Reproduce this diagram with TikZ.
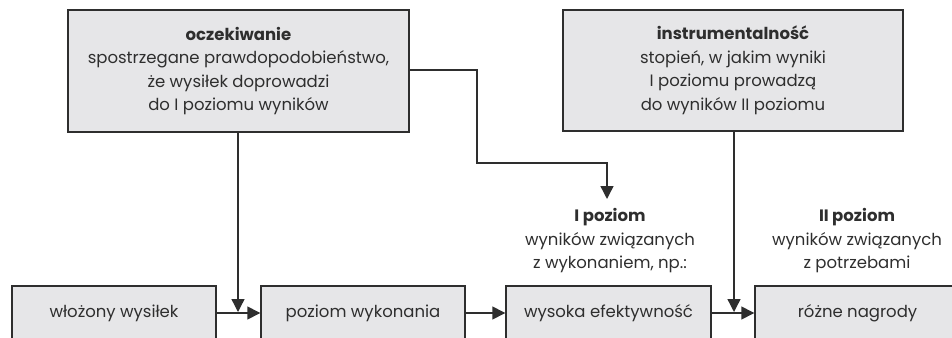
\documentclass[tikz,border=0pt]{standalone}
\usepackage{fontspec}
\setmainfont{Poppins}
\usetikzlibrary{arrows.meta}
\definecolor{boxfill}{HTML}{E6E6E8}
\definecolor{ink}{HTML}{2E2E2E}
\begin{document}
\begin{tikzpicture}[x=1pt,y=-1pt,
  every node/.style={text=ink,font=\fontsize{16.5}{23.5}\selectfont},
  box/.style={draw=ink,fill=boxfill,line width=1.4pt,align=center,inner sep=0pt},
  lab/.style={align=center,inner sep=0pt},
  conn/.style={draw=ink,line width=1.4pt},
  arr/.style={conn,-{Triangle[length=13pt,width=13pt]}}]
\useasboundingbox (0,0) rectangle (952,337);
\clip (0,0) rectangle (952,337);
% upper boxes
\node[box,minimum width=341pt,minimum height=122pt] (exp) at (238.5,71)
  {\textbf{oczekiwanie}\\spostrzegane prawdopodobieństwo,\\że wysiłek doprowadzi\\do I poziomu wyników};
\node[box,minimum width=340pt,minimum height=121pt] (ins) at (733,70.5)
  {\textbf{instrumentalność}\\stopień, w jakim wyniki\\I poziomu prowadzą\\do wyników II poziomu};
% lower chain
\node[box,minimum width=204pt,minimum height=54pt] (b1) at (114,313) {włożony wysiłek};
\node[box,minimum width=204pt,minimum height=54pt] (b2) at (363,313) {poziom wykonania};
\node[box,minimum width=205pt,minimum height=54pt] (b3) at (608.5,313) {wysoka efektywność};
\node[box,minimum width=205pt,minimum height=54pt] (b4) at (857.5,313) {różne nagrody};
% level captions
\node[lab] (l1) at (610,241) {\textbf{I poziom}\\wyników związanych\\z wykonaniem, np.:};
\node[lab] (l2) at (857,241) {\textbf{II poziom}\\wyników związanych\\z potrzebami};
% horizontal flow
\draw[arr] (b1.east) -- (b2.west);
\draw[arr] (b2.east) -- (b3.west);
\draw[arr] (b3.east) -- (b4.west);
% influences from above
\coordinate (e1) at (238,312);
\coordinate (e2) at (734,312);
\coordinate (e3) at (607,199);
\draw[arr] (exp.south -| e1) -- (e1);
\draw[arr] (ins.south -| e2) -- (e2);
\draw[arr] (exp.east |- 0,70) -- (477,70) -- (477,163) -- (607,163) -- (e3);
\end{tikzpicture}
\end{document}
